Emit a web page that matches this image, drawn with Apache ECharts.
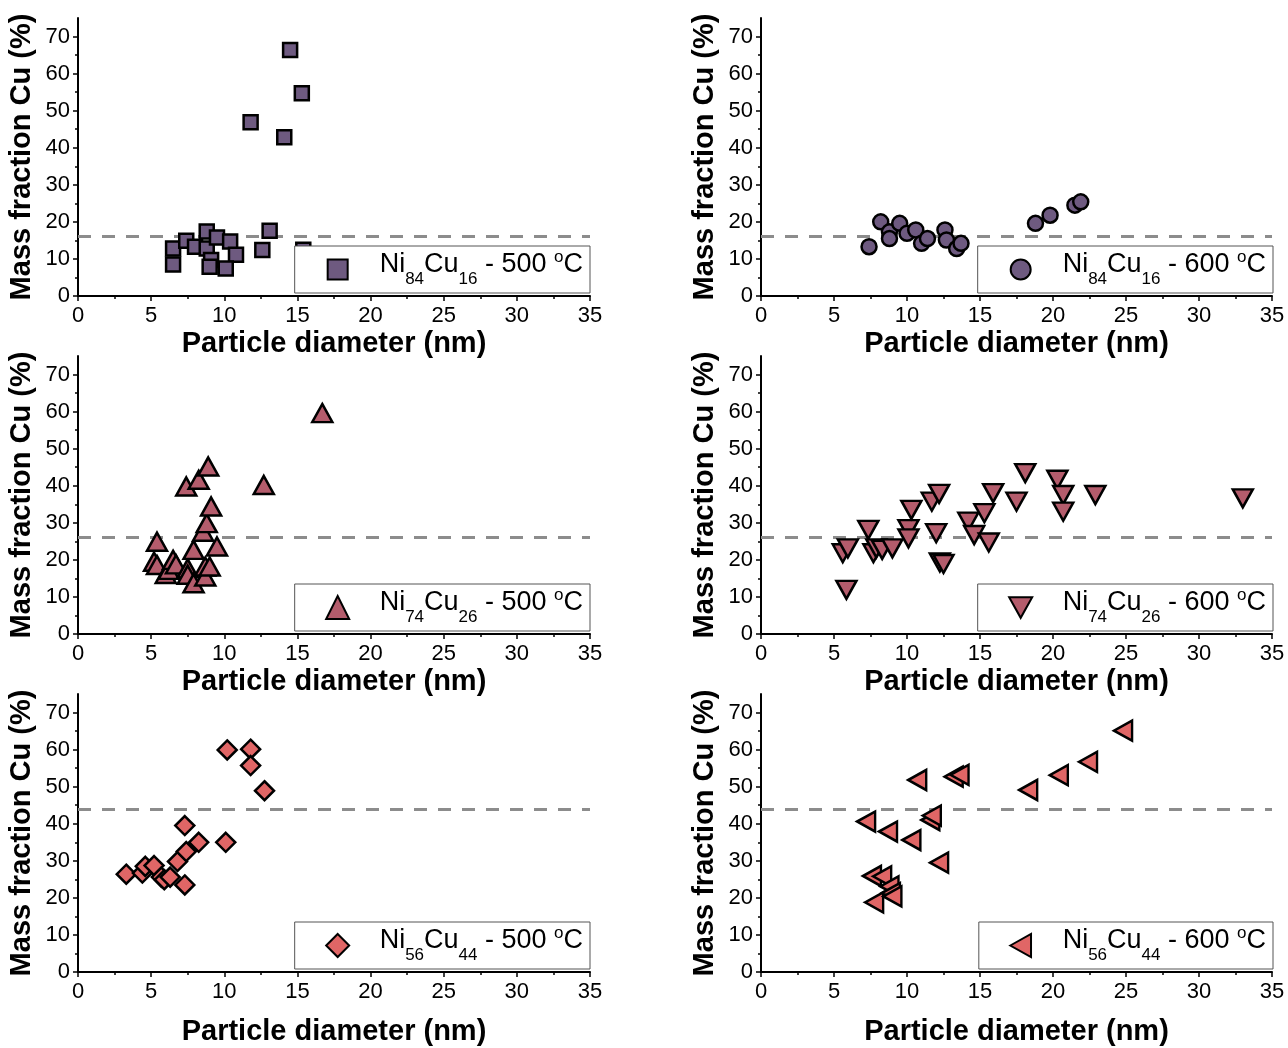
<!DOCTYPE html>
<html lang="en">
<head>
    <meta charset="UTF-8">
    <title>Cu mass fraction vs particle diameter</title>
    <style>
        html, body { margin: 0; padding: 0; background: #fff; }
        #main { width: 1288px; height: 1048px; }
    </style>
</head>
<body>
<div id="main"></div>
<script src="https://cdn.jsdelivr.net/npm/echarts@6/dist/echarts.min.js"></script>
<script>
    // ---- data: diameter (nm) / Cu mass fraction (%) ----
    const ni84_500_d = [6.5, 6.5, 7.4, 8.0, 8.8, 8.8, 9.1, 9.0, 9.5, 10.4, 10.8, 10.1, 12.6, 13.1, 15.4, 11.8, 14.5, 15.3, 14.1];
    const ni84_500_cu = [8.5, 12.8, 14.9, 13.3, 17.4, 12.8, 9.7, 7.9, 15.8, 14.7, 11.1, 7.4, 12.4, 17.6, 12.5, 46.9, 66.4, 54.7, 42.8];

    const ni84_600_d = [7.4, 8.2, 8.8, 8.8, 9.5, 10.0, 10.6, 11.0, 11.4, 12.6, 12.7, 13.4, 13.7, 18.8, 19.8, 21.5, 21.9];
    const ni84_600_cu = [13.3, 20.0, 17.3, 15.5, 19.6, 16.9, 17.8, 14.2, 15.5, 17.8, 15.1, 12.8, 14.2, 19.6, 21.8, 24.5, 25.4];

    const ni74_500_d = [5.4, 5.2, 5.4, 6.0, 6.2, 6.5, 6.7, 7.4, 7.5, 7.5, 7.9, 7.9, 8.25, 8.55, 8.7, 8.7, 8.9, 8.8, 9.1, 9.0, 9.5, 12.7, 16.7];
    const ni74_500_cu = [24.9, 19.5, 18.6, 16.2, 17.3, 20.0, 18.8, 39.8, 17.7, 16.0, 13.7, 22.7, 41.6, 27.6, 18.2, 15.5, 45.2, 29.9, 34.4, 18.2, 23.6, 40.2, 59.6];

    const ni74_600_d = [5.6, 5.95, 5.85, 7.35, 7.7, 7.9, 8.3, 9.0, 10.1, 10.1, 10.3, 11.7, 12.2, 12.0, 12.25, 12.5, 14.2, 14.6, 15.3, 15.6, 15.9, 17.5, 18.1, 20.3, 20.7, 20.7, 22.9, 33.0];
    const ni74_600_cu = [21.8, 23.1, 11.9, 28.1, 21.8, 23.1, 22.7, 23.1, 28.3, 25.8, 33.5, 35.7, 37.8, 27.2, 19.3, 18.9, 30.3, 26.7, 32.6, 24.7, 38.0, 35.7, 43.4, 41.6, 37.5, 33.0, 37.5, 36.6];

    const ni56_500_d = [3.3, 4.4, 4.6, 5.2, 5.7, 5.9, 6.3, 6.8, 7.3, 7.4, 7.3, 8.25, 10.1, 10.2, 11.8, 11.8, 12.75];
    const ni56_500_cu = [26.4, 26.7, 28.5, 28.7, 25.6, 24.9, 25.6, 29.8, 23.5, 32.5, 39.5, 35.0, 35.0, 59.9, 60.1, 55.7, 48.9];

    const ni56_600_d = [7.2, 7.6, 7.75, 8.3, 8.7, 8.8, 8.9, 9.0, 10.3, 10.7, 11.6, 11.7, 12.2, 13.2, 13.6, 18.3, 20.4, 22.4, 24.8];
    const ni56_600_cu = [40.6, 25.9, 18.8, 25.8, 37.9, 23.1, 21.3, 20.4, 35.6, 51.8, 41.0, 42.2, 29.5, 52.7, 53.2, 49.1, 53.1, 56.7, 65.1];

    // nominal composition (dashed line) per row
    const nominalCu = [16, 26, 44];

    const xTicks = [0, 5, 10, 15, 20, 25, 30, 35];
    const yTicks = [0, 10, 20, 30, 40, 50, 60, 70];

    const purple = '#6e5a80';
    const rose = '#b45c6c';
    const salmon = '#e06666';
    const font = 'Liberation Sans, Arial, sans-serif';

    const panels = [
        { name: 'Ni84Cu16 - 500 °C', d: ni84_500_d, cu: ni84_500_cu, symbol: 'rect', size: 14, icon: 20, color: purple, sub: ['84', '16'], t: '500', row: 0, col: 0 },
        { name: 'Ni84Cu16 - 600 °C', d: ni84_600_d, cu: ni84_600_cu, symbol: 'circle', size: 15, icon: 20, color: purple, sub: ['84', '16'], t: '600', row: 0, col: 1 },
        { name: 'Ni74Cu26 - 500 °C', d: ni74_500_d, cu: ni74_500_cu, symbol: 'triangle', size: [20, 18], icon: 23, color: rose, sub: ['74', '26'], t: '500', row: 1, col: 0 },
        { name: 'Ni74Cu26 - 600 °C', d: ni74_600_d, cu: ni74_600_cu, symbol: 'path://M0,0 L20,0 L10,18 Z', size: [20, 18], icon: 23, color: rose, sub: ['74', '26'], t: '600', row: 1, col: 1 },
        { name: 'Ni56Cu44 - 500 °C', d: ni56_500_d, cu: ni56_500_cu, symbol: 'diamond', size: 19, icon: 23, color: salmon, sub: ['56', '44'], t: '500', row: 2, col: 0 },
        { name: 'Ni56Cu44 - 600 °C', d: ni56_600_d, cu: ni56_600_cu, symbol: 'path://M0,10 L18,0 L18,20 Z', size: [18, 20], icon: 23, color: salmon, sub: ['56', '44'], t: '600', row: 2, col: 1 }
    ];

    const rowTop = [18, 356, 694];
    const plotH = 278;
    const colLeft = [78, 761];
    const colW = [512, 511];
    const xNameGap = [33, 33, 45];

    const grid = [], xAxis = [], yAxis = [], series = [], legend = [];

    panels.forEach((p, i) => {
        grid.push({
            left: colLeft[p.col], top: rowTop[p.row], width: colW[p.col], height: plotH
        });
        xAxis.push({
            gridIndex: i, type: 'value', min: 0, max: 35, interval: 5,
            name: 'Particle diameter (nm)', nameLocation: 'middle', nameGap: xNameGap[p.row],
            nameTextStyle: { fontSize: 29, fontWeight: 'bold', color: '#000', fontFamily: font },
            axisLine: { show: true, onZero: false, lineStyle: { color: '#000', width: 2 } },
            axisTick: { show: true, length: 5, lineStyle: { color: '#000', width: 1.5 } },
            minorTick: { show: true, splitNumber: 2, length: 3, lineStyle: { color: '#000', width: 1.5 } },
            splitLine: { show: false },
            axisLabel: { fontSize: 22, color: '#000', margin: 9, fontFamily: font, customValues: xTicks }
        });
        yAxis.push({
            gridIndex: i, type: 'value', min: 0, max: 75, interval: 10,
            name: 'Mass fraction Cu (%)', nameLocation: 'middle', nameGap: 42, nameRotate: 90,
            nameTextStyle: { fontSize: 29, fontWeight: 'bold', color: '#000', fontFamily: font },
            axisLine: { show: true, onZero: false, lineStyle: { color: '#000', width: 2 } },
            axisTick: { show: true, length: 5, lineStyle: { color: '#000', width: 1.5 }, customValues: yTicks },
            minorTick: { show: true, splitNumber: 2, length: 3, lineStyle: { color: '#000', width: 1.5 } },
            splitLine: { show: false },
            axisLabel: { fontSize: 22, color: '#000', margin: 8, fontFamily: font, customValues: yTicks }
        });
        series.push({
            name: p.name, type: 'scatter', xAxisIndex: i, yAxisIndex: i, z: 3,
            symbol: p.symbol, symbolSize: p.size,
            itemStyle: { color: p.color, borderColor: '#000', borderWidth: 2.5, opacity: 1 },
            emphasis: { disabled: true },
            data: p.d.map((v, k) => [v, p.cu[k]]),
            markLine: {
                silent: true, z: 1, symbol: ['none', 'none'], label: { show: false },
                lineStyle: { color: '#8c8c8c', type: [13, 11], width: 3 },
                data: [{ yAxis: nominalCu[p.row] }]
            }
        });
        legend.push({
            data: [p.name],
            right: p.col === 0 ? 698 : 15,
            top: rowTop[p.row] + 228,
            orient: 'horizontal',
            backgroundColor: '#fff', borderColor: '#555', borderWidth: 1,
            padding: [3, 7, 3, 32 - (p.icon - 20) / 2],
            itemWidth: p.icon, itemHeight: p.icon,
            selectedMode: false,
            formatter: () => '{n0|Ni}{s|' + p.sub[0] + '}{n|Cu}{s|' + p.sub[1] + '}{n| - ' + p.t + ' }{p|o}{n|C}',
            textStyle: {
                color: '#000', fontFamily: font,
                rich: {
                    n0: { fontSize: 27, lineHeight: 28, padding: [0, 0, 9, 27 - (p.icon - 20) / 2], fontFamily: font, color: '#000' },
                    n: { fontSize: 27, lineHeight: 28, padding: [0, 0, 9, 0], fontFamily: font, color: '#000' },
                    s: { fontSize: 17, lineHeight: 17, padding: [20, 0, 0, 0], fontFamily: font, color: '#000' },
                    p: { fontSize: 17, lineHeight: 13, padding: [0, 0, 24, 0], fontFamily: font, color: '#000' }
                }
            }
        });
    });

    const myChart = echarts.init(document.getElementById('main'));
    myChart.setOption({
        animation: false,
        grid: grid,
        xAxis: xAxis,
        yAxis: yAxis,
        legend: legend,
        series: series
    });
</script>
</body>
</html>
